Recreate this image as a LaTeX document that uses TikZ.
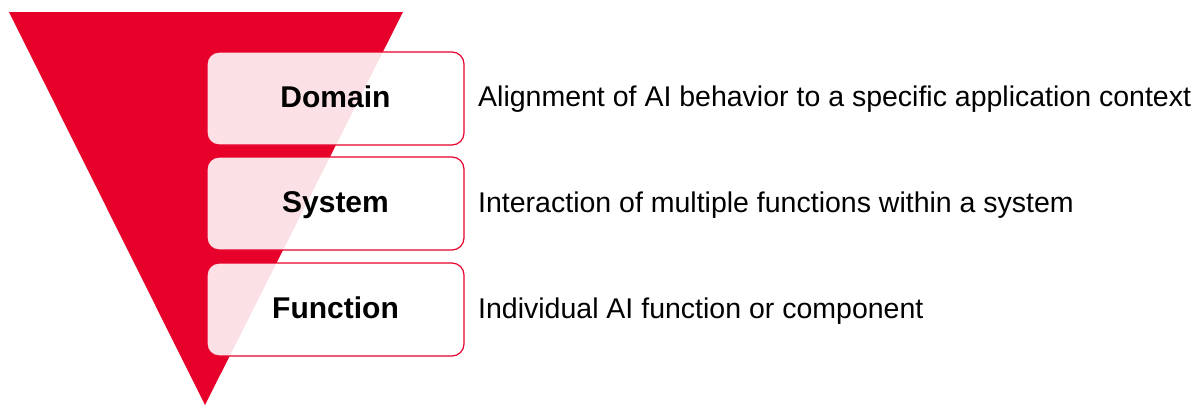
\documentclass[tikz,border=0pt]{standalone}
\usepackage{fontspec}
\setmainfont{Liberation Sans}
\definecolor{brandred}{HTML}{E6002A}
\tikzset{
  layerbox/.style={draw=brandred, line width=1.2pt, fill=white, fill opacity=0.88, draw opacity=1, rounded corners=12pt, minimum width=257pt, minimum height=93pt, inner sep=0pt},
  title/.style={anchor=base, inner sep=0pt, font=\fontsize{30}{34}\selectfont\bfseries},
  desc/.style={anchor=base west, inner sep=0pt, font=\fontsize{28.5}{32}\selectfont}
}
\begin{document}
\begin{tikzpicture}[x=1pt,y=-1pt]
\useasboundingbox (0,0) rectangle (1200,405);
\fill[brandred] (9,12) coordinate (tl) -- (403,12) coordinate (tr) -- (205,405) coordinate (ap) -- cycle;
\node[layerbox] (domain) at (335.5,98.5) {};
\node[layerbox] (system) at (335.5,203.5) {};
\node[layerbox] (function) at (335.5,309.5) {};
\node[title] (t1) at (335.5,107.5) {Domain};
\node[title] (t2) at (335.5,212.5) {System};
\node[title] (t3) at (335.5,318.5) {Function};
\node[desc] (d1) at (478,106.5) {Alignment of AI behavior to a specific application context};
\node[desc] (d2) at (478,212) {Interaction of multiple functions within a system};
\node[desc] (d3) at (478,318.5) {Individual AI function or component};
\end{tikzpicture}
\end{document}
